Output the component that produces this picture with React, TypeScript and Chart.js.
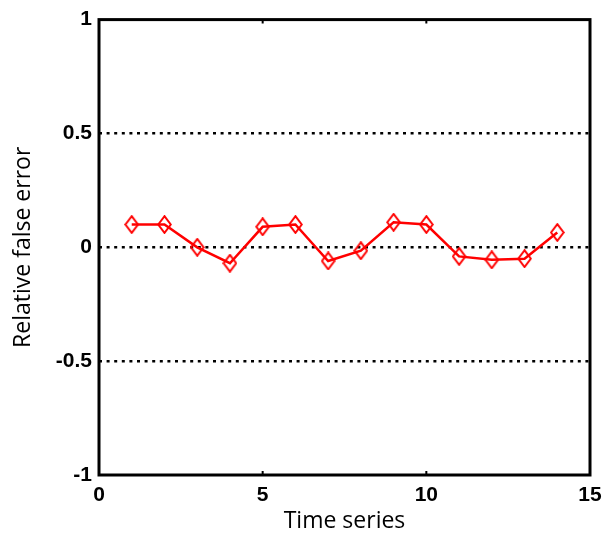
import React, { useEffect, useRef } from 'react';
import { Chart, registerables } from 'chart.js';

Chart.register(...registerables);

const timeSeries = [1, 2, 3, 4, 5, 6, 7, 8, 9, 10, 11, 12, 13, 14];
const relativeFalseError = [0.1, 0.1, 0.0, -0.07, 0.09, 0.1, -0.06, -0.015, 0.11, 0.1, -0.04, -0.055, -0.05, 0.065];
const xTicks = [0, 5, 10, 15];
const yTicks = [-1, -0.5, 0, 0.5, 1];
const yTickLabels = ['-1', '-0.5', '0', '0.5', '1'];
const dottedLevels = [-0.5, 0, 0.5];
const xTitle = 'Time series';
const yTitle = 'Relative false error';

function makeDiamond(): HTMLCanvasElement {
  const w = 15, h = 19;
  const c = document.createElement('canvas');
  c.width = w; c.height = h;
  const g = c.getContext('2d')!;
  g.strokeStyle = '#ff0000';
  g.lineWidth = 2;
  g.beginPath();
  g.moveTo(w / 2, 1.2);
  g.lineTo(w - 1.2, h / 2);
  g.lineTo(w / 2, h - 1.2);
  g.lineTo(1.2, h / 2);
  g.closePath();
  g.stroke();
  return c;
}

const framePlugin = {
  id: 'frame',
  afterDraw(chart: any) {
    const { ctx, chartArea } = chart;
    const { left, top, right, bottom } = chartArea;
    ctx.save();
    ctx.strokeStyle = '#000';
    ctx.lineWidth = 3;
    ctx.strokeRect(left, top, right - left, bottom - top);
    const xs = chart.scales.x;
    ctx.lineWidth = 2;
    xTicks.slice(1, -1).forEach((v) => {
      const px = xs.getPixelForValue(v);
      ctx.beginPath();
      ctx.moveTo(px, bottom);
      ctx.lineTo(px, bottom - 4);
      ctx.moveTo(px, top);
      ctx.lineTo(px, top + 4);
      ctx.stroke();
    });
    ctx.restore();
  },
};

export default function App() {
  const ref = useRef<HTMLCanvasElement | null>(null);
  useEffect(() => {
    if (!ref.current) return;
    const diamond = makeDiamond();
    const chart = new Chart(ref.current, {
      type: 'line',
      data: {
        datasets: [
          {
            data: timeSeries.map((x, i) => ({ x, y: relativeFalseError[i] })),
            borderColor: '#ff0000',
            borderWidth: 2.5,
            pointStyle: diamond as any,
            pointRadius: 8,
            backgroundColor: 'transparent',
            tension: 0,
          },
        ],
      },
      options: {
        animation: false,
        responsive: false,
        devicePixelRatio: 1,
        layout: { padding: { top: 17, right: 0, left: 0, bottom: 0 } },
        plugins: { legend: { display: false }, tooltip: { enabled: false } },
        scales: {
          x: {
            type: 'linear',
            min: 0,
            max: 15,
            afterFit: (s: any) => { s.height = 60; s.paddingRight = 12; s.paddingLeft = 0; },
            afterBuildTicks: (s: any) => { s.ticks = xTicks.map((v) => ({ value: v })); },
            grid: { display: false, drawTicks: false },
            border: { display: false },
            ticks: {
              color: '#000',
              padding: 8,
              maxRotation: 0,
              font: { family: 'Liberation Sans', size: 21, weight: 'bold' },
              callback: (v: any) => String(v),
            },
            title: {
              display: true,
              text: xTitle,
              color: '#000',
              font: { family: 'Open Sans', size: 23 },
              padding: { top: 0, bottom: 0 },
            },
          },
          y: {
            type: 'linear',
            min: -1,
            max: 1,
            afterFit: (s: any) => { s.width = 99; },
            afterBuildTicks: (s: any) => { s.ticks = yTicks.map((v) => ({ value: v })); },
            grid: {
              drawTicks: false,
              lineWidth: 2.5,
              color: (ctx: any) => (dottedLevels.includes(ctx.tick?.value) ? '#000' : 'rgba(0,0,0,0)'),
            },
            border: { display: false, dash: [3, 4.6] },
            ticks: {
              color: '#000',
              padding: 7,
              font: { family: 'Liberation Sans', size: 21, weight: 'bold' },
              callback: (v: any) => yTickLabels[yTicks.indexOf(Number(v))] ?? String(v),
            },
            title: {
              display: true,
              text: yTitle,
              color: '#000',
              font: { family: 'Open Sans', size: 23 },
              padding: { top: 10, bottom: 0 },
            },
          },
        },
      },
      plugins: [framePlugin],
    });
    return () => chart.destroy();
  }, []);
  return (
    <div style={{ position: 'absolute', left: 0, top: 0, width: 602, height: 535, background: '#fff' }}>
      <canvas ref={ref} width={602} height={535} />
    </div>
  );
}
